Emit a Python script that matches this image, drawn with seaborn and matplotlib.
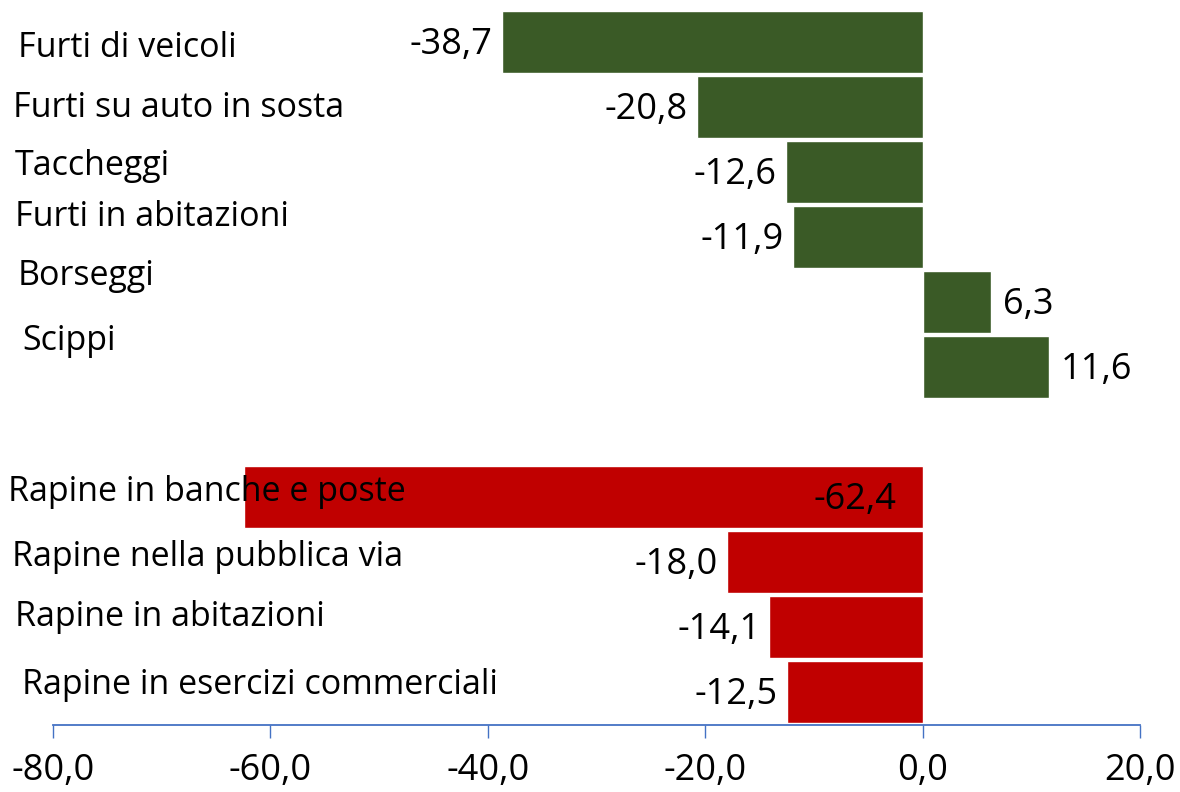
import matplotlib
matplotlib.use("Agg")
import matplotlib.pyplot as plt
import matplotlib.transforms as mtransforms
import pandas as pd
import seaborn as sns

# data
furti_cats = ["Furti di veicoli", "Furti su auto in sosta", "Taccheggi",
              "Furti in abitazioni", "Borseggi", "Scippi"]
furti_vals = [-38.7, -20.8, -12.6, -11.9, 6.3, 11.6]
rapine_cats = ["Rapine in banche e poste", "Rapine nella pubblica via",
               "Rapine in abitazioni", "Rapine in esercizi commerciali"]
rapine_vals = [-62.4, -18.0, -14.1, -12.5]
xticks = [-80, -60, -40, -20, 0, 20]

GREEN = "#3A5A26"
RED = "#C00000"
AXIS_BLUE = "#4472C4"
FS_CAT = 24.5
FS_VAL = 26
FS_TICK = 26

df = pd.DataFrame({
    "cat": furti_cats + rapine_cats,
    "val": furti_vals + rapine_vals,
    "group": ["furti"] * len(furti_cats) + ["rapine"] * len(rapine_cats),
})
order = furti_cats + [" "] + rapine_cats  # empty row between the two groups

sns.set_style("white")
plt.rcParams["font.family"] = ["Open Sans", "DejaVu Sans"]
plt.rcParams["text.color"] = "black"

fig = plt.figure(figsize=(11.8, 7.92), dpi=100)
ax = fig.add_axes([53 / 1180, 1 - 724.5 / 792, (1140 - 53) / 1180, 715 / 792])

sns.barplot(data=df, x="val", y="cat", hue="group", order=order,
            palette={"furti": GREEN, "rapine": RED}, dodge=False,
            width=0.95, orient="h", legend=False, ax=ax, saturation=1)

ax.set_xlim(-80, 20)
ax.set_xticks(xticks)
ax.set_xticklabels([f"{t:.1f}".replace(".", ",") for t in xticks], fontsize=FS_TICK)
ax.set_yticks([])
ax.set_xlabel("")
ax.set_ylabel("")
for s in ["top", "left", "right"]:
    ax.spines[s].set_visible(False)
ax.spines["bottom"].set_color(AXIS_BLUE)
ax.spines["bottom"].set_linewidth(1.3)
ax.tick_params(axis="x", bottom=True, direction="out", length=9.5, width=1.0,
               color=AXIS_BLUE, pad=11, labelcolor="black")

# category labels, free-standing text boxes on the left
lab_x = [18, 13, 15, 15, 18, 22, 8, 12, 15, 22]          # px from left
lab_dy = [0.09, 0.02, -0.09, -0.31, -0.40, -0.40,        # row offsets
          -0.08, -0.08, -0.15, -0.11]
tr = mtransforms.blended_transform_factory(fig.transFigure, ax.transData)
cats = furti_cats + rapine_cats
for cat, lx, dy in zip(cats, lab_x, lab_dy):
    pos = order.index(cat)
    ax.text(lx / 1180, pos + dy, cat, transform=tr, ha="left", va="center",
            fontsize=FS_CAT, color="black")

# value labels
vals = furti_vals + rapine_vals
for cat, v in zip(cats, vals):
    pos = order.index(cat) + 0.04
    txt = f"{v:.1f}".replace(".", ",")
    if v < -50:
        off = mtransforms.offset_copy(ax.transData, fig=fig, x=-26 * 0.72, y=0, units="points")
        ax.text(0, pos, txt, transform=off, ha="right", va="center", fontsize=FS_VAL, color="black")
    elif v < 0:
        off = mtransforms.offset_copy(ax.transData, fig=fig, x=-9 * 0.72, y=0, units="points")
        ax.text(v, pos, txt, transform=off, ha="right", va="center", fontsize=FS_VAL, color="black")
    else:
        off = mtransforms.offset_copy(ax.transData, fig=fig, x=12 * 0.72, y=0, units="points")
        ax.text(v, pos, txt, transform=off, ha="left", va="center", fontsize=FS_VAL, color="black")

fig.savefig("out.png", dpi=100)
